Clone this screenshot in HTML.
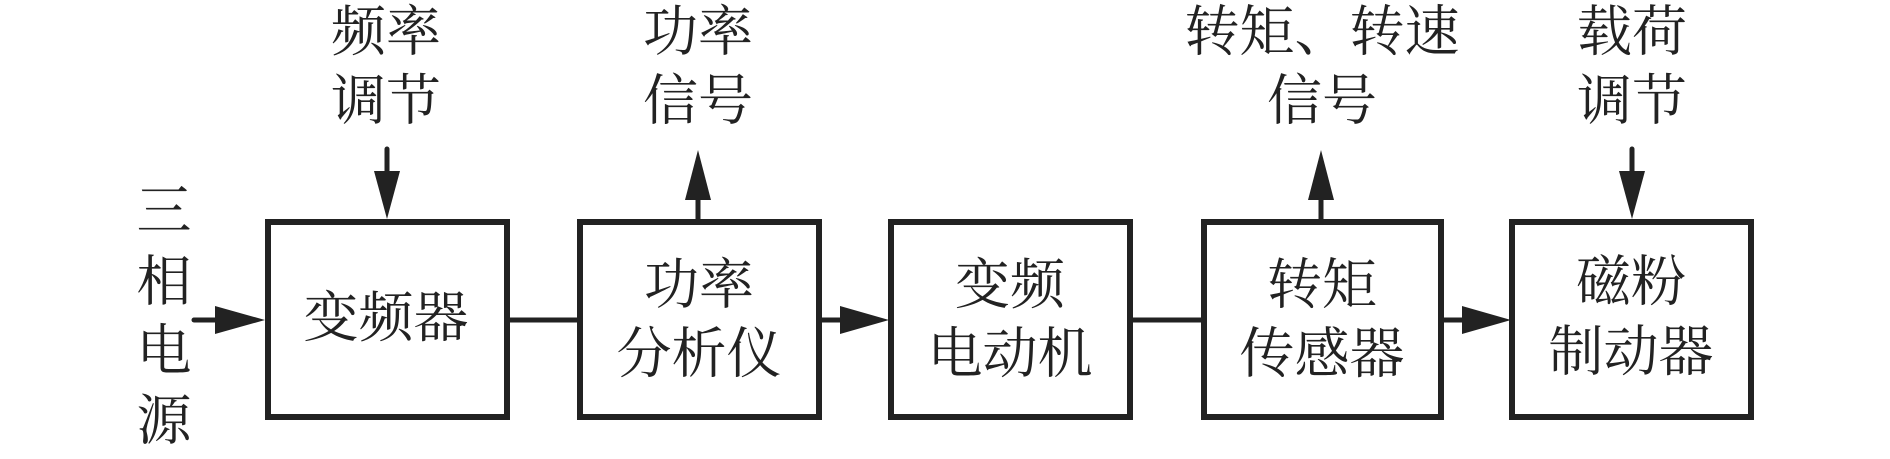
<!DOCTYPE html>
<html><head><meta charset="utf-8"><style>
html,body{margin:0;padding:0;background:#fff;}
svg text{font-family:"Liberation Serif","Noto Serif CJK SC",serif;font-size:55px;fill:#222;text-anchor:middle;dominant-baseline:central;}
</style></head><body>
<svg width="1890" height="454" viewBox="0 0 1890 454" xmlns="http://www.w3.org/2000/svg">
<g fill="none" stroke="#222" stroke-width="6">
<rect x="268" y="222" width="239" height="195"/>
<rect x="580" y="222" width="239" height="195"/>
<rect x="891" y="222" width="239" height="195"/>
<rect x="1204" y="222" width="237" height="195"/>
<rect x="1512" y="222" width="239" height="195"/>
</g>
<g stroke="#222" stroke-width="5" fill="none" stroke-linecap="round">
<line x1="194" y1="320" x2="220" y2="320"/>
<line x1="507" y1="320" x2="580" y2="320"/>
<line x1="819" y1="320" x2="842" y2="320"/>
<line x1="1130" y1="320" x2="1204" y2="320"/>
<line x1="1441" y1="320" x2="1465" y2="320"/>
<line x1="387" y1="149" x2="387" y2="175"/>
<line x1="698" y1="195" x2="698" y2="219"/>
<line x1="1321" y1="195" x2="1321" y2="219"/>
<line x1="1632" y1="149" x2="1632" y2="175"/>
</g>
<g fill="#222">
<polygon points="215,306 265,320 215,334"/>
<polygon points="840,306 889,320 840,334"/>
<polygon points="1462,306 1511,320 1462,334"/>
<polygon points="374,171 400,171 387,219"/>
<polygon points="1619,171 1645,171 1632,219"/>
<polygon points="685,200 711,200 698,150"/>
<polygon points="1308,200 1334,200 1321,150"/>
</g>
<text x="386" y="318">变频器</text>
<text x="699" y="285">功率</text><text x="699" y="354">分析仪</text>
<text x="1010" y="285">变频</text><text x="1010" y="354">电动机</text>
<text x="1322" y="285">转矩</text><text x="1322" y="354">传感器</text>
<text x="1631" y="282">磁粉</text><text x="1631" y="352">制动器</text>
<text x="386" y="32">频率</text><text x="386" y="101">调节</text>
<text x="698" y="32">功率</text><text x="698" y="101">信号</text>
<text x="1322" y="32">转矩、转速</text><text x="1322" y="101">信号</text>
<text x="1632" y="32">载荷</text><text x="1632" y="101">调节</text>
<text x="164" y="211">三</text><text x="164" y="282">相</text><text x="164" y="351">电</text><text x="164" y="421">源</text>
</svg>
</body></html>
